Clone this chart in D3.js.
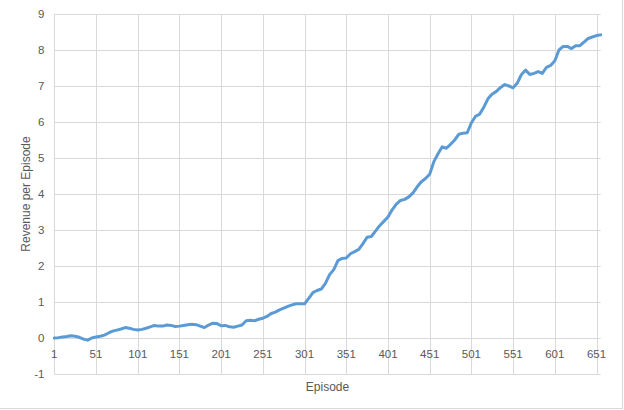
<!DOCTYPE html>
<html>
<head>
<meta charset="utf-8">
<script src="https://cdn.jsdelivr.net/npm/d3@7"></script>
<style>
html,body{margin:0;padding:0;background:#fff;}
svg{display:block;}
</style>
</head>
<body>
<svg id="chart" width="624" height="410"></svg>
<script>
const episodes = [1,6,11,16,21,26,31,36,41,46,51,56,61,66,71,76,81,86,91,96,
101,106,111,116,121,126,131,136,141,146,151,156,161,166,171,176,181,186,191,196,
201,206,211,216,221,226,231,236,241,246,251,256,261,266,271,276,281,286,291,296,
301,306,311,316,321,326,331,336,341,346,351,356,361,366,371,376,381,386,391,396,
401,406,411,416,421,426,431,436,441,446,451,456,461,466,471,476,481,486,491,496,
501,506,511,516,521,526,531,536,541,546,551,556,561,566,571,576,581,586,591,596,
601,606,611,616,621,626,631,636,641,646,651,656];
const revenue = [0.00,0.01,0.03,0.04,0.06,0.05,0.02,-0.03,-0.06,0.00,0.03,0.05,0.08,0.14,0.19,0.22,0.25,0.29,0.27,0.24,
0.22,0.24,0.27,0.31,0.35,0.33,0.33,0.36,0.35,0.32,0.33,0.35,0.37,0.38,0.37,0.33,0.29,0.36,0.41,0.40,
0.34,0.35,0.31,0.30,0.33,0.36,0.48,0.49,0.48,0.52,0.55,0.60,0.68,0.72,0.78,0.83,0.88,0.92,0.95,0.95,
0.95,1.10,1.26,1.32,1.36,1.52,1.76,1.90,2.15,2.21,2.22,2.34,2.40,2.46,2.62,2.80,2.82,2.97,3.12,3.24,
3.36,3.56,3.72,3.82,3.85,3.92,4.03,4.20,4.34,4.43,4.55,4.90,5.12,5.31,5.27,5.38,5.50,5.66,5.69,5.70,
5.98,6.16,6.22,6.42,6.65,6.78,6.85,6.96,7.04,7.00,6.95,7.08,7.32,7.44,7.32,7.35,7.40,7.35,7.52,7.57,
7.70,8.00,8.10,8.10,8.04,8.12,8.12,8.22,8.32,8.36,8.40,8.42];
const xTickLabels = [1,51,101,151,201,251,301,351,401,451,501,551,601,651];
const yTickLabels = [-1,0,1,2,3,4,5,6,7,8,9];

const svg = d3.select("#chart");
const FONT = "'Liberation Sans', Arial, sans-serif";
const TXT = "#595959";
const GRID = "#d9d9d9";

const x = d3.scaleLinear().domain([1, 656]).range([54.3, 600.7]);
const y = d3.scaleLinear().domain([-1, 9]).range([374, 14]);

// outer border
svg.append("rect").attr("x", -1).attr("y", -1).attr("width", 623.5).attr("height", 409.5)
  .attr("fill", "none").attr("stroke", GRID).attr("stroke-width", 1);

// horizontal gridlines
svg.append("g").selectAll("line").data(yTickLabels).join("line")
  .attr("x1", x.range()[0]).attr("x2", x.range()[1])
  .attr("y1", d => Math.round(y(d)) + 0.5).attr("y2", d => Math.round(y(d)) + 0.5)
  .attr("stroke", GRID).attr("stroke-width", 1);

// vertical gridlines
svg.append("g").selectAll("line").data(xTickLabels).join("line")
  .attr("x1", d => Math.round(x(d)) + 0.5).attr("x2", d => Math.round(x(d)) + 0.5)
  .attr("y1", y(9)).attr("y2", y(-1))
  .attr("stroke", GRID).attr("stroke-width", 1);

// y tick labels
svg.append("g").selectAll("text").data(yTickLabels).join("text")
  .attr("x", 44.5).attr("y", d => y(d)).attr("dy", "0.36em")
  .attr("text-anchor", "end").attr("font-family", FONT).attr("font-size", 11.5)
  .attr("fill", TXT).text(d => d);

// x tick labels (at the zero crossing)
svg.append("g").selectAll("text").data(xTickLabels).join("text")
  .attr("x", d => x(d)).attr("y", y(0) + 15.5)
  .attr("dy", "0.36em")
  .attr("text-anchor", "middle").attr("font-family", FONT).attr("font-size", 11.5)
  .attr("fill", TXT).text(d => d);

// line
const line = d3.line().x((d, i) => x(episodes[i])).y(d => y(d));
svg.append("path").datum(revenue).attr("d", line)
  .attr("fill", "none").attr("stroke", "#5B9BD5").attr("stroke-width", 3)
  .attr("stroke-linejoin", "round").attr("stroke-linecap", "round");

// axis titles
svg.append("text").attr("x", 327.5).attr("y", 386.5).attr("dy", "0.36em")
  .attr("text-anchor", "middle").attr("font-family", FONT).attr("font-size", 12)
  .attr("fill", TXT).text("Episode");
svg.append("text").attr("transform", "translate(26,194) rotate(-90)")
  .attr("dy", "0.36em")
  .attr("text-anchor", "middle").attr("font-family", FONT).attr("font-size", 12)
  .attr("fill", TXT).text("Revenue per Episode");
</script>
</body>
</html>
